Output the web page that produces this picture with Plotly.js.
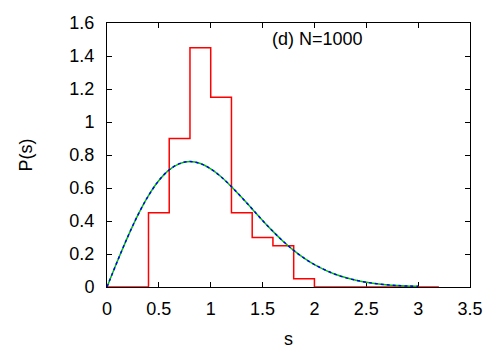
<!DOCTYPE html>
<html>
<head>
<meta charset="utf-8">
<script src="https://cdn.plot.ly/plotly-3.0.1.min.js"></script>
<style>html,body{margin:0;padding:0;background:#fff;}#chart{width:500px;height:350px;}</style>
</head>
<body>
<div id="chart"></div>
<script>
// Histogram bin edges and heights
var binEdges = [0, 0.2, 0.4, 0.6, 0.8, 1.0, 1.2, 1.4, 1.6, 1.8, 2.0, 2.2, 2.4, 2.6, 2.8, 3.0, 3.2];
var binHeights = [0, 0, 0.45, 0.90, 1.45, 1.15, 0.45, 0.30, 0.25, 0.05, 0, 0, 0, 0, 0, 0, 0];

// Smooth curve samples
var curveS = [0, 0.1, 0.2, 0.3, 0.4, 0.5, 0.6, 0.7, 0.8, 0.9, 1.0, 1.1, 1.2, 1.3, 1.4, 1.5, 1.6, 1.7, 1.8, 1.9, 2.0, 2.2, 2.4, 2.6, 2.8, 3.0];
var curveP = [0, 0.156, 0.304, 0.439, 0.554, 0.645, 0.710, 0.748, 0.760, 0.748, 0.716, 0.668, 0.608, 0.542, 0.473, 0.403, 0.337, 0.276, 0.222, 0.175, 0.136, 0.077, 0.041, 0.020, 0.009, 0.004];

var xTicks = [0, 0.5, 1, 1.5, 2, 2.5, 3, 3.5];
var yTicks = [0, 0.2, 0.4, 0.6, 0.8, 1, 1.2, 1.4, 1.6];

var fontFam = 'Liberation Sans, Arial, sans-serif';
var fs = 18;

var traces = [
  {x: binEdges, y: binHeights, mode: 'lines', line: {shape: 'hv', color: '#ff0000', width: 1.5}, hoverinfo: 'none'},
  {x: curveS, y: curveP, mode: 'lines', line: {shape: 'spline', color: '#00c000', width: 1.5}, hoverinfo: 'none'},
  {x: curveS, y: curveP, mode: 'lines', line: {shape: 'spline', color: '#0000ff', width: 1.5, dash: 'dot'}, hoverinfo: 'none'}
];

var axisCommon = {
  showgrid: false, zeroline: false, showline: true, linecolor: '#000', linewidth: 1,
  mirror: 'allticks', ticks: 'inside', ticklen: 5, tickcolor: '#000', tickwidth: 1,
  tickfont: {family: fontFam, size: fs, color: '#000'}, layer: 'below traces'
};

var layout = {
  width: 500, height: 350,
  margin: {l: 107, r: 30, t: 23, b: 63},
  paper_bgcolor: '#fff', plot_bgcolor: '#fff',
  showlegend: false,
  font: {family: fontFam, size: fs, color: '#000'},
  xaxis: Object.assign({}, axisCommon, {
    range: [0, 3.5], tickvals: xTicks, ticktext: xTicks.map(String),
    ticklabelstandoff: 5,
    title: {text: 's', font: {family: fontFam, size: fs, color: '#000'}, standoff: 14}
  }),
  yaxis: Object.assign({}, axisCommon, {
    range: [0, 1.6], tickvals: yTicks, ticktext: yTicks.map(String),
    ticklabelstandoff: 8,
    title: {text: 'P(s)', font: {family: fontFam, size: fs, color: '#000'}, standoff: 32}
  }),
  annotations: [{
    x: 2.03, y: 1.505, xref: 'x', yref: 'y', text: '(d) N=1000', showarrow: false,
    font: {family: fontFam, size: fs, color: '#000'}
  }]
};

Plotly.newPlot('chart', traces, layout, {staticPlot: true, displayModeBar: false});
</script>
</body>
</html>
